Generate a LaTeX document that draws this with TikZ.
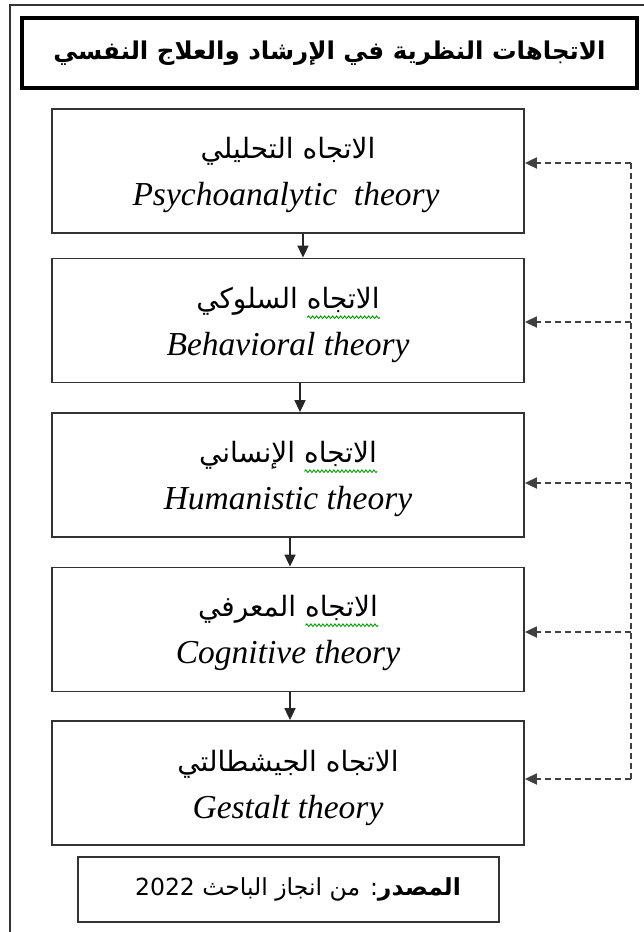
\documentclass[tikz,border=0pt]{standalone}
\usepackage{fontspec}
\setmainfont{Liberation Serif}
\newfontfamily\arabicfont[Script=Arabic]{DejaVu Sans}
\TeXXeTstate=1
\usetikzlibrary{arrows.meta,decorations.pathmorphing}
\newlength\wordw

\begin{document}
\settowidth{\wordw}{\arabicfont\fontsize{28}{32}\selectfont الاتجاه}%
\begin{tikzpicture}[x=1pt,y=-1pt,
  frame/.style={draw=black!80,line width=1.6pt},
  heading/.style={draw=black,line width=3.4pt,minimum width=615pt,minimum height=70pt,inner sep=0pt,
    font=\arabicfont\bfseries\fontsize{24.5}{28}\selectfont},
  stage/.style={draw=black!80,line width=1.8pt,minimum width=472pt,minimum height=124pt,inner sep=0pt},
  ar/.style={font=\arabicfont\fontsize{28}{32}\selectfont,inner sep=0pt},
  en/.style={font=\itshape\fontsize{33.5}{38}\selectfont,inner sep=0pt},
  srcbox/.style={draw=black!80,line width=1.8pt,minimum width=421pt,minimum height=65pt,inner sep=0pt},
  srctext/.style={font=\arabicfont\fontsize{23.5}{28}\selectfont,inner sep=0pt},
  flow/.style={-{Triangle[length=12pt,width=11pt]},line width=1.7pt,draw=black!85},
  backline/.style={line width=1.8pt,draw=black!75,dash pattern=on 6pt off 4pt},
  back/.style={backline,-{Triangle[length=12pt,width=11pt]}},
  squig/.style={draw=green!60!black,line width=0.9pt,decorate,
    decoration={snake,amplitude=1.3pt,segment length=4pt}}
]
\useasboundingbox (0,0) rectangle (644,932);
\clip (0,0) rectangle (644,932);

% outer page frame
\draw[frame] (10,5) rectangle (660,950);

% heading
\node[heading] (title) at (329.5,53) {\beginR الاتجاهات النظرية في الإرشاد والعلاج النفسي\endR};

% stage boxes
\node[stage] (b1) at (288,171) {};
\node[stage] (b2) at (288,320.5) {};
\node[stage] (b3) at (288,475) {};
\node[stage] (b4) at (288,629.5) {};
\node[stage] (b5) at (288,783) {};

% stage labels
\node[ar] (a1) at (288,151) {\beginR الاتجاه التحليلي\endR};
\node[en] (e1) at (286,197) {Psychoanalytic\ \ theory};
\node[ar] (a2) at (288,301) {\beginR الاتجاه السلوكي\endR};
\node[en] (e2) at (288,347) {Behavioral theory};
\node[ar] (a3) at (288,455) {\beginR الاتجاه الإنساني\endR};
\node[en] (e3) at (288,501) {Humanistic theory};
\node[ar] (a4) at (288,609) {\beginR الاتجاه المعرفي\endR};
\node[en] (e4) at (288,655) {Cognitive theory};
\node[ar] (a5) at (288,764) {\beginR الاتجاه الجيشطالتي\endR};
\node[en] (e5) at (288,810) {Gestalt theory};

% spell-check underlines
\draw[squig] ([yshift=-9pt]a2.base east) -- ++(-\wordw,0);
\draw[squig] ([yshift=-9pt]a3.base east) -- ++(-\wordw,0);
\draw[squig] ([yshift=-9pt]a4.base east) -- ++(-\wordw,0);

% downward flow
\draw[flow] ([xshift=15pt]b1.south) -- ([xshift=15pt]b2.north);
\draw[flow] ([xshift=12pt]b2.south) -- ([xshift=12pt]b3.north);
\draw[flow] ([xshift=2pt]b3.south) -- ([xshift=2pt]b4.north);
\draw[flow] ([xshift=2pt]b4.south) -- ([xshift=2pt]b5.north);

% feedback line
\coordinate (r1) at (631,163);
\coordinate (r2) at (631,322);
\coordinate (r3) at (631,483);
\coordinate (r4) at (631,632);
\coordinate (r5) at (631,779);
\draw[backline] (r1) -- (r5);
\draw[back] (r1) -- (r1 -| b1.east);
\draw[back] (r2) -- (r2 -| b2.east);
\draw[back] (r3) -- (r3 -| b3.east);
\draw[back] (r4) -- (r4 -| b4.east);
\draw[back] (r5) -- (r5 -| b5.east);

% source note
\node[srcbox] (src) at (288.5,889.5) {};
\node[srctext] (srct) at (298,889) {\beginR{\bfseries المصدر}: من انجاز الباحث \beginL 2022\endL\endR};
\end{tikzpicture}
\end{document}
